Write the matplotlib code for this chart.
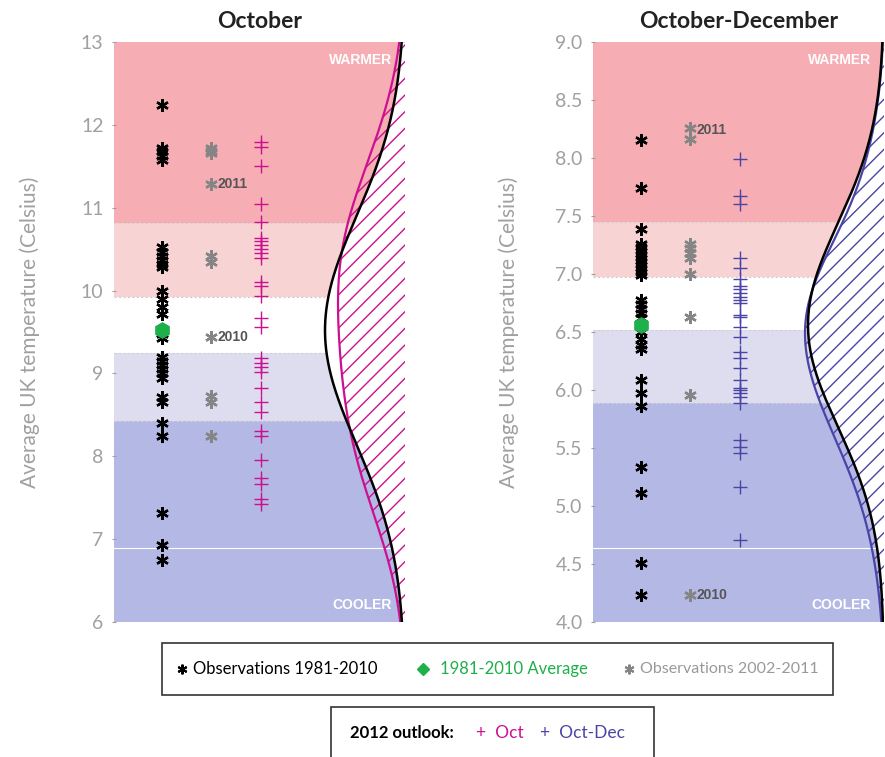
# Perspectivas de temperatura del Reino Unido: octubre y octubre-diciembre 2012

import numpy as np
import matplotlib
matplotlib.use("Agg")
import matplotlib.pyplot as plt
from matplotlib.patches import Rectangle

plt.rcParams['font.family'] = ['Lato', 'DejaVu Sans']
plt.rcParams['hatch.linewidth'] = 1.0

# ---- Datos ----
# Octubre
oct_obs_1981_2010 = [12.24, 11.72, 11.68, 11.63, 11.58, 10.52, 10.47, 10.42, 10.37, 10.32,
                     10.28, 9.99, 9.90, 9.80, 9.72, 9.47, 9.43, 9.20, 9.15, 9.10,
                     9.05, 9.00, 8.95, 8.72, 8.66, 8.40, 8.24, 7.32, 6.93, 6.75]
oct_avg = 9.52
oct_obs_2002_2011 = [11.72, 11.69, 11.66, 11.29, 10.42, 10.35, 9.44, 8.73, 8.66, 8.24]
oct_year_labels = {"2011": 11.29, "2010": 9.44}
oct_forecast = [11.79, 11.73, 11.50, 11.05, 10.83, 10.64, 10.60, 10.55, 10.50, 10.45,
                10.39, 10.10, 10.05, 9.93, 9.67, 9.56, 9.19, 9.13, 9.08, 9.02,
                8.83, 8.65, 8.54, 8.30, 8.24, 7.96, 7.74, 7.66, 7.48, 7.42]
oct_bounds = [10.82, 9.92, 9.25, 8.43]   # limites de las bandas (de arriba a abajo)
oct_line = 6.89
oct_ticks = [6, 7, 8, 9, 10, 11, 12, 13]

# Octubre-Diciembre
ond_obs_1981_2010 = [8.155, 7.74, 7.39, 7.26, 7.23, 7.20, 7.17, 7.14, 7.11, 7.08,
                     7.05, 7.02, 6.99, 6.78, 6.74, 6.70, 6.66, 6.62, 6.55, 6.50,
                     6.44, 6.39, 6.35, 6.09, 5.97, 5.86, 5.34, 5.11, 4.51, 4.23]
ond_avg = 6.56
ond_obs_2002_2011 = [8.26, 8.16, 7.26, 7.22, 7.18, 7.14, 7.00, 6.63, 5.96, 4.23]
ond_year_labels = {"2011": 8.24, "2010": 4.23}
ond_forecast = [7.99, 7.67, 7.60, 7.14, 7.05, 6.96, 6.90, 6.87, 6.84, 6.80,
                6.78, 6.75, 6.65, 6.63, 6.54, 6.46, 6.33, 6.28, 6.19, 6.09,
                6.02, 6.00, 5.97, 5.94, 5.89, 5.57, 5.51, 5.46, 5.16, 4.71]
ond_bounds = [7.45, 6.97, 6.52, 5.89]
ond_line = 4.64
ond_ticks = [4.0, 4.5, 5.0, 5.5, 6.0, 6.5, 7.0, 7.5, 8.0, 8.5, 9.0]

# Colores
band_colors = ['#F6ADB4', '#F8D3D3', '#FFFFFF', '#DEDDF0', '#B4B8E4']
c_oct = '#CC1190'
c_ond = '#4A44A6'
c_green = '#1DB04B'
c_gray = '#858585'
c_tick = '#A0A0A0'


def kde(data, grid, bw):
    data = np.asarray(data)
    d = (grid[:, None] - data[None, :]) / bw
    return np.exp(-0.5 * d ** 2).sum(axis=1)


def normal(data, center, grid):
    sd = np.std(data, ddof=1)
    return np.exp(-0.5 * ((grid - center) / sd) ** 2)


def draw_panel(ax, title, ylim, ticks, tickfmt, bounds, wline, obs, avg, obs_recent,
               year_labels, forecast, fc_color, bw_fc, peak_obs, peak_fc):
    lo, hi = ylim
    edges = [hi] + bounds + [lo]
    for i in range(5):
        ax.axhspan(edges[i + 1], edges[i], color=band_colors[i], lw=0, zorder=0)
    for b in bounds:
        ax.axhline(b, color='#D0D0D0', lw=0.8, ls=(0, (2, 2)), zorder=1)
    ax.axhline(wline, color='white', lw=0.8, zorder=1)

    # Distribuciones: climatologia (normal) y pronostico (KDE), desde el borde derecho
    grid = np.linspace(lo, hi, 500)
    p_obs = normal(obs, avg, grid)
    p_fc = kde(forecast, grid, bw_fc)
    x_obs = 1 - peak_obs / 291 * p_obs / p_obs.max()
    x_fc = 1 - peak_fc / 291 * p_fc / p_fc.max()
    ax.fill_betweenx(grid, x_obs, 1, color='white', lw=0, zorder=2)
    ax.fill_betweenx(grid, x_fc, 1, facecolor='none', edgecolor=fc_color,
                     hatch='//', lw=0, zorder=3)
    ax.plot(x_fc, grid, color=fc_color, lw=1.6, zorder=4)
    ax.plot(x_obs, grid, color='black', lw=1.8, zorder=4)

    # Puntos
    ax.plot([0.165] * len(obs), obs, ls='none', marker=(6, 2, 0), ms=9, mew=1.7,
            color='black', zorder=5)
    ax.plot([0.165], [avg], ls='none', marker='h', ms=11, color=c_green, zorder=6)
    ax.plot([0.333] * len(obs_recent), obs_recent, ls='none', marker=(6, 2, 0), ms=9,
            mew=1.7, color=c_gray, zorder=5)
    ax.plot([0.505] * len(forecast), forecast, ls='none', marker='+', ms=10, mew=1.0,
            color=fc_color, zorder=5)
    for yr, val in year_labels.items():
        ax.text(0.357, val, yr, fontsize=10, fontweight='bold', color='#555555',
                va='center', ha='left', family='Liberation Sans', zorder=6)

    ax.text(0.955, hi - (hi - lo) * 0.031, 'WARMER', color='white', fontsize=10,
            fontweight='bold', ha='right', va='center', family='Liberation Sans', zorder=6)
    ax.text(0.955, lo + (hi - lo) * 0.029, 'COOLER', color='white', fontsize=10,
            fontweight='bold', ha='right', va='center', family='Liberation Sans', zorder=6)

    ax.set_xlim(0, 1)
    ax.set_ylim(lo, hi)
    ax.set_xticks([])
    ax.set_yticks(ticks)
    ax.set_yticklabels([tickfmt.format(t) for t in ticks])
    ax.tick_params(axis='y', colors=c_tick, labelsize=14, length=3, width=0.8,
                   direction='inout', pad=6)
    for s in ax.spines.values():
        s.set_visible(False)
    ax.set_ylabel('Average UK temperature (Celsius)', color=c_tick, fontsize=15)
    ax.yaxis.set_label_coords(-74 / 291, 0.5)
    ax.set_title(title, fontsize=16.5, fontweight='bold', color='#222222', pad=10)


fig = plt.figure(figsize=(8.85, 7.57), dpi=100)
ax1 = fig.add_axes([114 / 885, 1 - 622 / 757, 291 / 885, 580 / 757])
ax2 = fig.add_axes([593 / 885, 1 - 622 / 757, 291 / 885, 580 / 757])

draw_panel(ax1, 'October', (6, 13), oct_ticks, '{:d}', oct_bounds, oct_line,
           oct_obs_1981_2010, oct_avg, oct_obs_2002_2011, oct_year_labels,
           oct_forecast, c_oct, 0.9, 80, 67)
draw_panel(ax2, 'October-December', (4, 9), ond_ticks, '{:.1f}', ond_bounds, ond_line,
           ond_obs_1981_2010, ond_avg, ond_obs_2002_2011, ond_year_labels,
           ond_forecast, c_ond, 0.55, 76, 79)

# ---- Leyendas (cajas dibujadas a mano) ----
W, H = 885, 757


def fx(px):
    return px / W


def fy(py):
    return 1 - py / H


fig.patches.append(Rectangle((fx(162), fy(695)), fx(833) - fx(162), fy(643) - fy(695),
                             transform=fig.transFigure, fill=False, ec='#333333', lw=1.2))
fig.patches.append(Rectangle((fx(331), fy(765)), fx(654) - fx(331), fy(707) - fy(765),
                             transform=fig.transFigure, fill=False, ec='#333333', lw=1.2))

ly = fy(669)
fig.lines.append(plt.Line2D([fx(182)], [ly], transform=fig.transFigure, ls='none',
                            marker=(6, 2, 0), ms=7, mew=1.5, color='black'))
fig.text(fx(193), ly, 'Observations 1981-2010', fontsize=12, color='black', va='center')
fig.lines.append(plt.Line2D([fx(423)], [ly], transform=fig.transFigure, ls='none',
                            marker='D', ms=6, color=c_green))
fig.text(fx(440), ly, '1981-2010 Average', fontsize=12, color=c_green, va='center')
fig.lines.append(plt.Line2D([fx(629)], [ly], transform=fig.transFigure, ls='none',
                            marker=(6, 2, 0), ms=7, mew=1.5, color=c_gray))
fig.text(fx(640), ly, 'Observations 2002-2011', fontsize=11.5, color='#999999', va='center')

ly2 = fy(733)
fig.text(fx(350), ly2, '2012 outlook:', fontsize=12, fontweight='bold', color='black',
         va='center')
fig.text(fx(476), ly2, '+  Oct', fontsize=12.5, color=c_oct, va='center')
fig.text(fx(540), ly2, '+  Oct-Dec', fontsize=12.5, color=c_ond, va='center')

fig.savefig('out.png', dpi=100)
